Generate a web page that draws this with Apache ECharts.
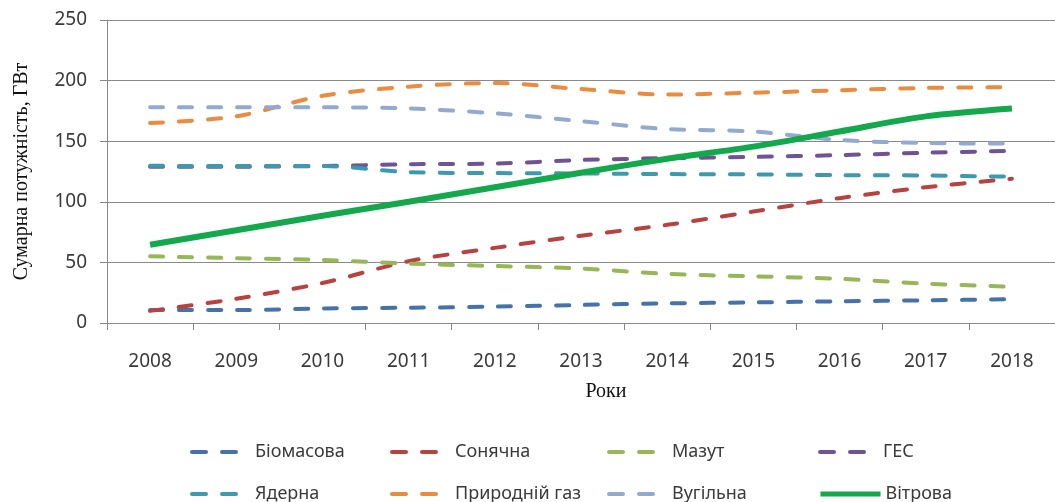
<!DOCTYPE html>
<html>
<head>
<meta charset="utf-8">
<script src="https://cdn.jsdelivr.net/npm/echarts@6/dist/echarts.min.js"></script>
<style>
  html, body { margin: 0; padding: 0; background: #fff; }
  #chart { width: 1055px; height: 502px; }
</style>
</head>
<body>
<div id="chart"></div>
<script>
// years on the x axis
const years = ['2008', '2009', '2010', '2011', '2012', '2013', '2014', '2015', '2016', '2017', '2018'];

// installed capacity, GW
const biomass = [10.7, 10.7, 12, 12.6, 13.5, 14.9, 16.2, 17, 17.9, 18.7, 19.6];
const solar = [10, 20, 33, 51, 62, 72, 81, 92, 103, 112, 119];
const fuelOil = [55, 53.5, 52, 49, 47, 45, 40.5, 38.5, 36.5, 32.5, 30];
const hydro = [129, 129, 129.5, 131, 131.5, 134.5, 136, 137, 138.5, 140.5, 142];
const nuclear = [129.7, 129.5, 129.5, 124.5, 123.7, 123.4, 122.9, 122.6, 122, 121.7, 120.7];
const gas = [165, 170.5, 187.5, 195, 198, 193, 188.5, 190, 192, 194, 194.5];
const coal = [178, 178, 178, 177, 173, 166.5, 160, 158, 151, 148.5, 148];
const wind = [64.5, 76.5, 88.5, 100, 112, 124, 135.5, 145.5, 158, 170.5, 177];

const yTicks = [0, 50, 100, 150, 200, 250];

const names = ['Біомасова', 'Сонячна', 'Мазут', 'ГЕС', 'Ядерна', 'Природній газ', 'Вугільна', 'Вітрова'];
const values = [biomass, solar, fuelOil, hydro, nuclear, gas, coal, wind];
const colors = ['#4672aa', '#b8423f', '#97b655', '#6f5493', '#3d9aae', '#ea8b3d', '#93a9cd', '#13a84c'];

const axisGray = '#898989';
const labelColor = '#3a3a3a';
const sansFont = '"Noto Sans", "Open Sans", sans-serif';
const serifFont = '"Liberation Serif", "DejaVu Serif", serif';

const series = names.map((name, i) => {
  const solid = name === 'Вітрова';
  return {
    name,
    type: 'line',
    data: values[i],
    smooth: 0.3,
    symbol: 'none',
    z: 2 + i,
    lineStyle: solid
      ? { color: colors[i], width: 6 }
      : { color: colors[i], width: 4, type: [13, 16], cap: 'round' },
    itemStyle: { color: colors[i] }
  };
});

// legend placed in two rows of four, like the original
const legendX = [190, 390, 607, 818];
const legendY = [443, 485];
const legends = names.map((name, i) => {
  const solid = name === 'Вітрова';
  return {
    data: [name],
    left: legendX[i % 4],
    top: legendY[Math.floor(i / 4)],
    padding: 0,
    itemWidth: solid ? 60 : 48,
    itemHeight: 14,
    // hide the round marker, keep only the line
    itemStyle: { color: 'rgba(0,0,0,0)', borderWidth: 0, opacity: 0 },
    lineStyle: solid ? { width: 5 } : { width: 4, type: [14, 16], cap: 'round' },
    textStyle: {
      fontFamily: sansFont,
      fontSize: 18,
      color: labelColor,
      padding: solid ? [0, 0, 0, 0] : [0, 0, 0, 10]
    },
    selectedMode: false
  };
});

const chart = echarts.init(document.getElementById('chart'));
chart.setOption({
  animation: false,
  grid: { left: 107, top: 20, width: 954, height: 303 },
  legend: legends,
  xAxis: {
    type: 'category',
    data: years,
    boundaryGap: true,
    name: 'Роки',
    nameLocation: 'middle',
    nameGap: 59,
    nameTextStyle: {
      fontFamily: serifFont,
      fontSize: 20,
      color: '#111',
      padding: [0, 0, 0, 50]
    },
    axisLine: { lineStyle: { color: axisGray } },
    axisTick: { show: true, length: 7, alignWithLabel: false, lineStyle: { color: axisGray } },
    axisLabel: { fontFamily: sansFont, fontSize: 19, color: labelColor, margin: 29 },
    splitLine: { show: false }
  },
  yAxis: {
    type: 'value',
    min: yTicks[0],
    max: yTicks[yTicks.length - 1],
    interval: 50,
    name: 'Сумарна потужність, ГВт',
    nameLocation: 'middle',
    nameGap: 75,
    nameTextStyle: { fontFamily: serifFont, fontSize: 20, color: '#111' },
    axisLine: { show: true, lineStyle: { color: axisGray } },
    axisTick: { show: true, length: 7, lineStyle: { color: axisGray } },
    axisLabel: { fontFamily: sansFont, fontSize: 19, color: labelColor, margin: 20 },
    splitLine: { lineStyle: { color: axisGray } }
  },
  series
});
</script>
</body>
</html>
